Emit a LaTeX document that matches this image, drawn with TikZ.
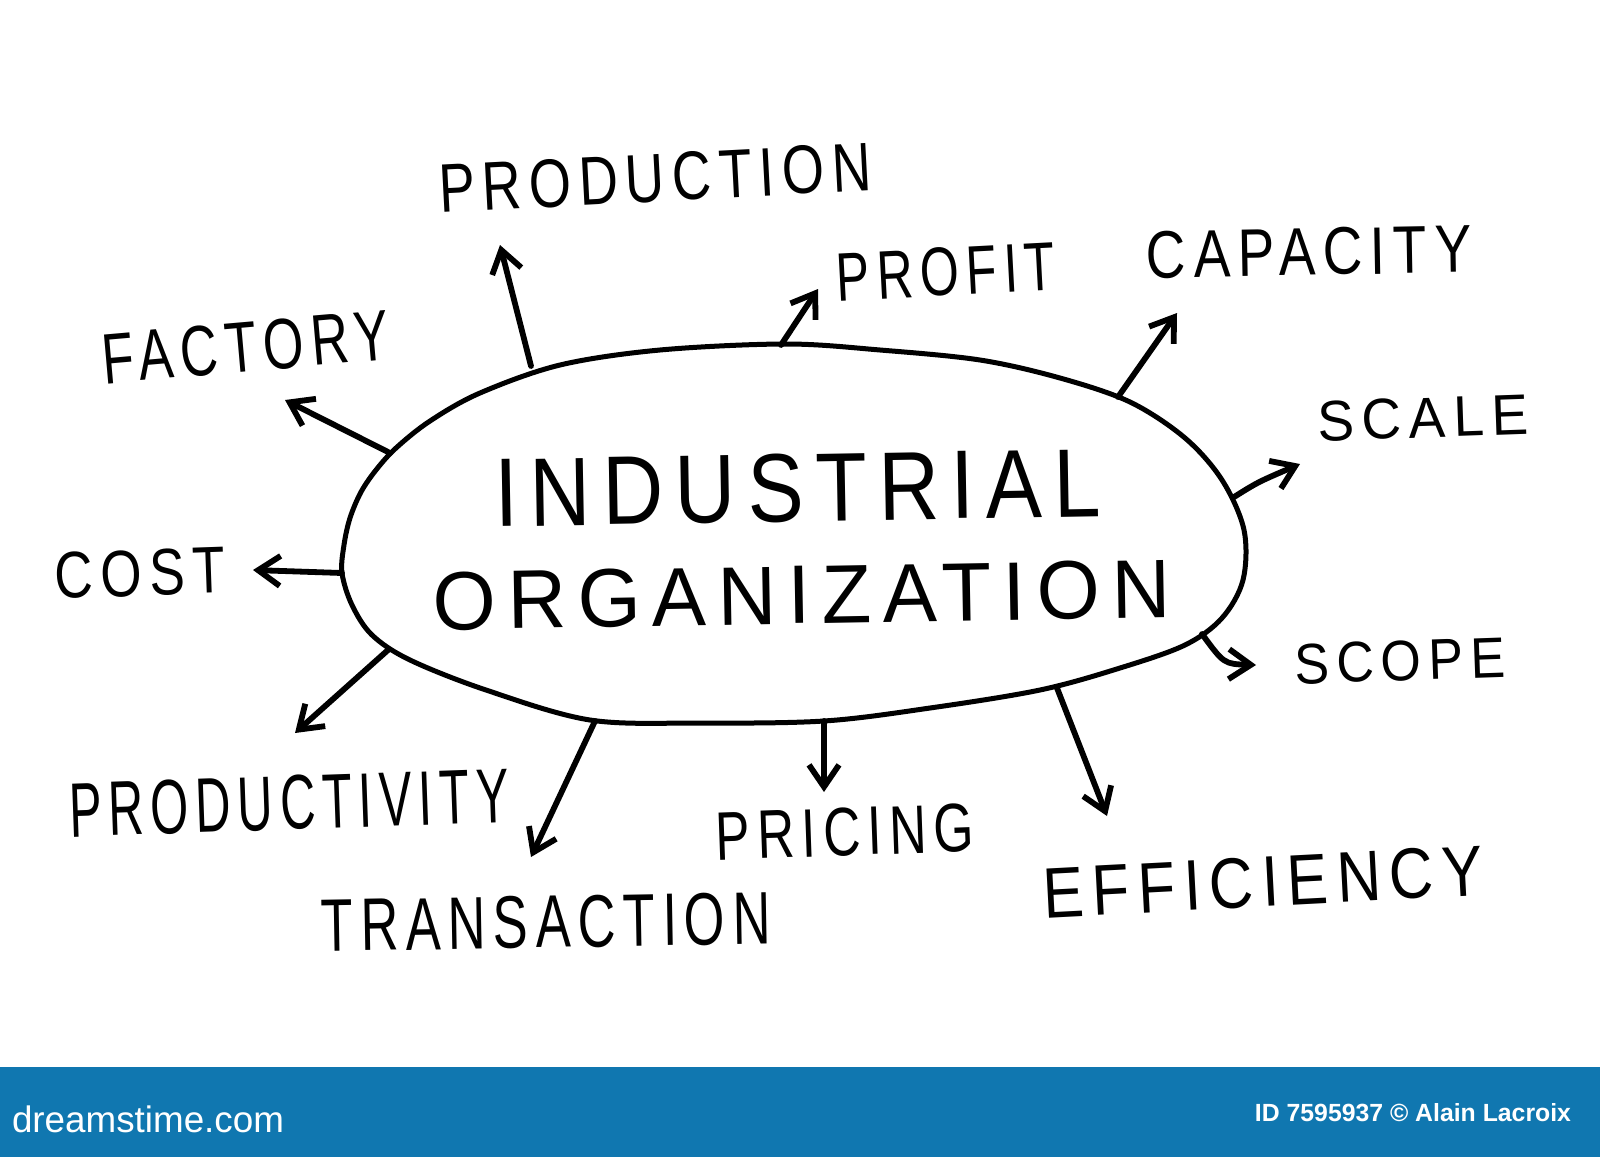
\documentclass[tikz,border=0pt]{standalone}
\usepackage{graphicx}
\usepackage{fontspec}
\setmainfont{Liberation Sans}
\newfontfamily\hand[LetterSpace=14]{Liberation Sans}
\usetikzlibrary{arrows.meta}
\newdimen\pxu \pxu=0.5pt
\newcommand{\fitbox}[3]{\resizebox{#1\pxu}{#2\pxu}{\hand #3}}
\definecolor{bannerblue}{RGB}{16,119,176}
\tikzset{
  lbl/.style={inner sep=0pt, outer sep=0pt, text=black},
  arr/.style={line width=2.9pt, line cap=round, line join=round, -{Straight Barb[length=11pt,width=15pt]}},
  blob/.style={line width=2.5pt, line join=round},
}
\begin{document}
\begin{tikzpicture}[x=0.5pt,y=-0.5pt]
\useasboundingbox (0,0) rectangle (1600,1157);
\fill[white] (0,0) rectangle (1600,1157);

% central blob
\draw[blob] plot[smooth cycle, tension=0.55] coordinates {
 (342,573) (344,545) (350,518) (361,492) (376,470) (396,448) (430,421) (480,393)
 (560,365) (660,350) (786,344) (880,350) (980,360) (1060,378) (1130,402)
 (1185,438) (1222,480) (1244,530) (1243,580) (1222,618) (1185,645) (1120,668)
 (1040,690) (930,708) (824,721) (700,723) (590,720) (486,690) (410,660)
 (372,635) (352,605)};

% central text
\node[lbl, rotate=1] (ind) at (798,488) {\fitbox{606}{68}{INDUSTRIAL}};
\node[lbl, rotate=1] (org) at (802,595) {\fitbox{737}{58}{ORGANIZATION}};

% labels
\node[lbl, rotate=3] (production) at (655,178) {\fitbox{433}{48}{PRODUCTION}};
\node[lbl, rotate=3] (profit) at (946,272) {\fitbox{219}{48}{PROFIT}};
\node[lbl, rotate=1] (capacity) at (1309,252) {\fitbox{325}{47}{CAPACITY}};
\node[lbl, rotate=5] (factory) at (246,347) {\fitbox{288}{50}{FACTORY}};
\node[lbl, rotate=2] (scale) at (1423,418) {\fitbox{211}{40}{SCALE}};
\node[lbl, rotate=2] (cost) at (140,573) {\fitbox{170}{46}{COST}};
\node[lbl, rotate=2] (scope) at (1400,661) {\fitbox{211}{40}{SCOPE}};
\node[lbl, rotate=2] (productivity) at (289,803) {\fitbox{440}{54}{PRODUCTIVITY}};
\node[lbl, rotate=1] (transaction) at (546,922) {\fitbox{449}{52}{TRANSACTION}};
\node[lbl, rotate=2] (pricing) at (845,832) {\fitbox{258}{48}{PRICING}};
\node[lbl, rotate=3] (efficiency) at (1263,882) {\fitbox{441}{50}{EFFICIENCY}};

% arrow end points
\coordinate (s-production) at (531,366);  \coordinate (t-production) at (500,245);
\coordinate (s-profit) at (781,345);      \coordinate (t-profit) at (818,289);
\coordinate (s-capacity) at (1118,397);   \coordinate (t-capacity) at (1177,313);
\coordinate (s-scale) at (1234,497);      \coordinate (t-scale) at (1300,464);
\coordinate (s-scope) at (1202,634);      \coordinate (t-scope) at (1256,665);
\coordinate (s-efficiency) at (1057,688); \coordinate (t-efficiency) at (1107,816);
\coordinate (s-pricing) at (824,721);     \coordinate (t-pricing) at (824,792);
\coordinate (s-transaction) at (595,721); \coordinate (t-transaction) at (531,857);
\coordinate (s-productivity) at (388,650);\coordinate (t-productivity) at (295,733);
\coordinate (s-cost) at (342,573);        \coordinate (t-cost) at (253,570);
\coordinate (s-factory) at (390,453);     \coordinate (t-factory) at (285,400);

\draw[arr] (s-production) -- (t-production);
\draw[arr] (s-profit) -- (t-profit);
\draw[arr] (s-capacity) -- (t-capacity);
\draw[arr] (s-scale) .. controls (1258,482) .. (t-scale);
\draw[arr] (s-scope) .. controls (1224,664) .. (t-scope);
\draw[arr] (s-efficiency) -- (t-efficiency);
\draw[arr] (s-pricing) -- (t-pricing);
\draw[arr] (s-transaction) -- (t-transaction);
\draw[arr] (s-productivity) -- (t-productivity);
\draw[arr] (s-cost) -- (t-cost);
\draw[arr] (s-factory) -- (t-factory);

% banner
\fill[bannerblue] (0,1067) rectangle (1600,1157);
\node[lbl, text=white, anchor=west] (brand) at (12,1119) {\resizebox{272\pxu}{!}{\fontsize{40}{40}\selectfont dreamstime.com}};
\node[lbl, text=white, anchor=east] (credit) at (1571,1113) {\resizebox{316\pxu}{18\pxu}{\bfseries ID 7595937 © Alain Lacroix}};
\end{tikzpicture}
\end{document}
